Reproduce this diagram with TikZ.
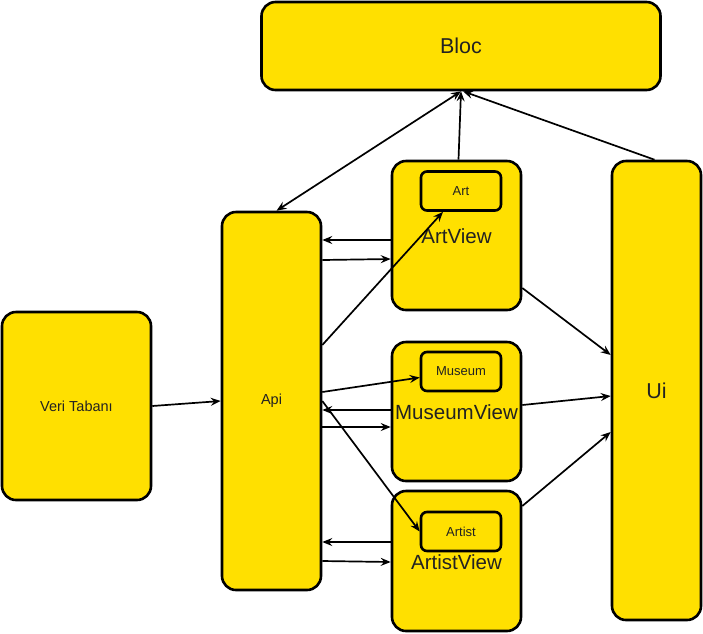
\documentclass[tikz,border=0pt]{standalone}
\usepackage{fontspec}
\setmainfont{Liberation Sans}
\usetikzlibrary{positioning, arrows.meta, calc}
\definecolor{boxyellow}{RGB}{255,224,0}
\definecolor{txtgray}{RGB}{34,34,34}
\begin{document}
\begin{tikzpicture}[
                x=1pt, y=-1pt,
                >={Stealth[length=10pt, width=8pt, inset=3.5pt]},
                block/.style={draw, line width=2.6pt, fill=boxyellow, rounded corners=14pt, inner sep=0pt, text=txtgray},
                inner/.style={draw, line width=2.6pt, fill=boxyellow, rounded corners=6pt, inner sep=0pt, minimum width=80, minimum height=39, font=\fontsize{13}{15}\selectfont, text=txtgray},
                arr/.style={->, line width=1.7pt},
            ]
                \useasboundingbox (0,0) rectangle (703,633);

                % Draw the main blocks
                \node[block, minimum width=399, minimum height=88, font=\fontsize{21.5}{25}\selectfont] (bloc) at (461,46) {Bloc};
                \node[block, minimum width=149, minimum height=188, font=\fontsize{14.5}{17}\selectfont] (veri) at (76.5,406) {Veri Tabanı};
                \node[block, minimum width=99, minimum height=378, font=\fontsize{14.5}{17}\selectfont] (api) at (271.5,401) {Api};
                \node[block, minimum width=89, minimum height=459, font=\fontsize{21.5}{25}\selectfont] (ui) at (656.5,390.5) {Ui};

                % Draw the view blocks
                \foreach \name / \y / \h in {artview/235.5/149, museumview/411.5/139, artistview/561/140}
                    \node[block, minimum width=129, minimum height=\h] (\name) at (456.5,\y) {};
                \node[inner] (art) at (461,191) {Art};
                \node[inner] (museum) at (461,371.5) {Museum};
                \node[inner] (artist) at (461,531.5) {Artist};
                \foreach \name / \y / \lbl in {artviewtxt/236/ArtView, museumviewtxt/412/MuseumView, artistviewtxt/562/ArtistView}
                    \node[font=\fontsize{20.5}{24}\selectfont, text=txtgray, inner sep=0pt] (\name) at (456.5,\y) {\lbl};

                % Connect the blocks
                \draw[arr] (veri.east) -- (api.west);
                \draw[arr, <->] ([xshift=5pt]api.north) -- (bloc.south);
                \draw[arr] ([xshift=2pt]artview.north) -- (bloc.south);
                \draw[arr] ([xshift=-2pt]ui.north) -- ([xshift=2pt]bloc.south);

                \draw[arr] (artview.west |- 0,240) -- (api.east |- 0,240);
                \draw[arr] (api.east |- 0,260) -- (artview.west |- 0,259);
                \draw[arr] (api.east |- 0,345) -- ([xshift=-18pt]art.south);
                \draw[arr] (api.east |- 0,392) -- ([yshift=-6pt]museum.west);
                \draw[arr] (museumview.west |- 0,410) -- (api.east |- 0,410);
                \draw[arr] (api.east |- 0,427) -- (museumview.west |- 0,427);
                \draw[arr] (api.east |- 0,401) -- (artist.west);
                \draw[arr] (artistview.west |- 0,542) -- (api.east |- 0,542);
                \draw[arr] (api.east |- 0,561) -- (artistview.west |- 0,562);

                \draw[arr] (artview.east |- 0,288) -- (ui.west |- 0,355);
                \draw[arr] (museumview.east |- 0,405) -- (ui.west |- 0,396);
                \draw[arr] (artistview.east |- 0,506) -- (ui.west |- 0,432);
            \end{tikzpicture}
\end{document}
